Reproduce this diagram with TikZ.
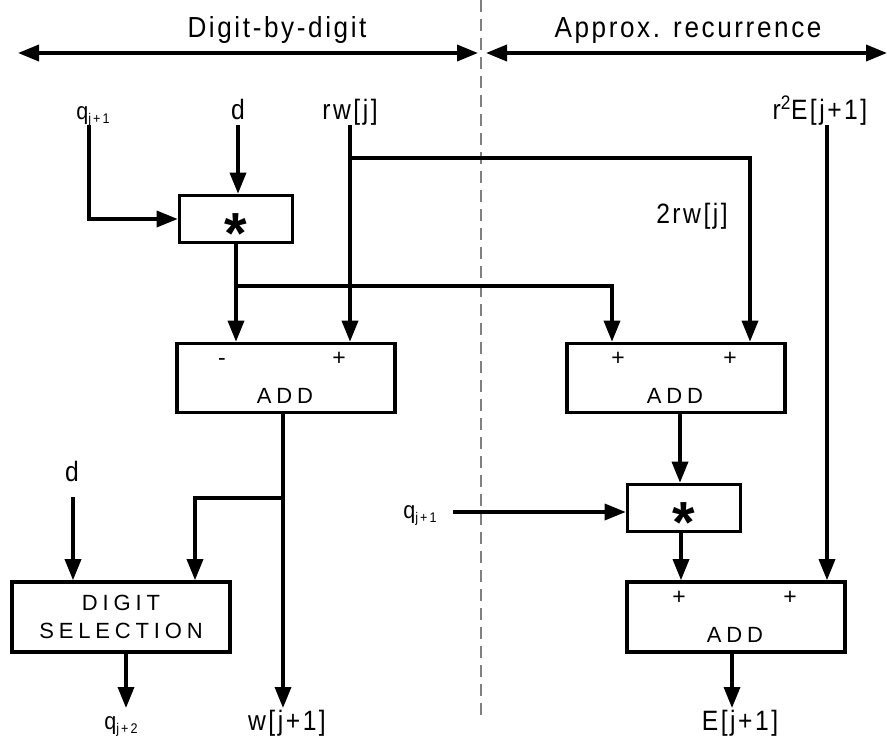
\documentclass[tikz,border=0pt]{standalone}
\usepackage{fontspec}
\setmainfont{Liberation Sans}
\usetikzlibrary{arrows.meta,positioning,calc}

\newcommand{\lowidx}[1]{\raisebox{-0.35ex}{\fontsize{14}{14}\selectfont\addfontfeatures{LetterSpace=15}#1}}
\newcommand{\mulsign}{\smash{\raisebox{-0.6em}{*}}}

\begin{document}
\begin{tikzpicture}[x=1pt,y=-1pt,
  tip/.style={-{Triangle[length=21pt,width=16pt]}},
  wire/.style={line width=3.4pt,tip},
  span/.style={line width=3.6pt,{Triangle[length=21pt,width=16pt]}-{Triangle[length=21pt,width=16pt]}},
  mulbox/.style={draw,line width=3.6pt,minimum width=113pt,minimum height=47pt,inner sep=0pt,font=\fontsize{58}{58}\selectfont\bfseries},
  addbox/.style={draw,line width=3.6pt,minimum width=218pt,minimum height=69pt,inner sep=0pt},
  lbl/.style={font=\fontsize{28}{30}\selectfont\addfontfeatures{FakeStretch=0.88,LetterSpace=9},inner sep=0pt,anchor=base},
  small/.style={font=\fontsize{24}{24}\selectfont\addfontfeatures{FakeStretch=0.9},inner sep=0pt,anchor=base},
  head/.style={font=\fontsize{29}{30}\selectfont\addfontfeatures{FakeStretch=0.9,LetterSpace=9},inner sep=0pt,anchor=base},
  sign/.style={font=\fontsize{23}{24}\selectfont,inner sep=0pt},
  boxtxt/.style={font=\fontsize{22}{28}\selectfont\addfontfeatures{LetterSpace=22},inner sep=0pt,align=center}]
\useasboundingbox (0,0) rectangle (887,740);

% headings and the split between both halves
\node[head] (hdig) at (277,37) {Digit-by-digit};
\node[head] (happ) at (688,37) {Approx. recurrence};
\coordinate (al) at (18,53); \coordinate (am) at (478,53);
\coordinate (bm) at (486,53); \coordinate (br) at (887,53);
\draw[span] (al) -- (am);
\draw[span] (bm) -- (br);
\draw[gray,line width=2.2pt,dash pattern=on 12pt off 7pt] (481,0) -- (481,720);

% boxes
\node[mulbox] (mul1) at (236,219) {\mulsign};
\node[addbox] (add1) at (286,378) {};
\node[addbox] (add2) at (676,378) {};
\node[mulbox] (mul2) at (684,508) {\mulsign};
\node[addbox,minimum height=70pt] (add3) at (736,617) {};
\node[draw,line width=3.6pt,minimum width=218pt,minimum height=70pt,inner sep=0pt] (dsel) at (121,617) {};

% texts in the boxes
\node[sign] (m1) at (222,362) {-};
\node[sign] (p1) at (339,359) {+};
\node[boxtxt] (t1) at (285,396) {ADD};
\node[sign] (p2) at (618,359) {+};
\node[sign] (p3) at (730,359) {+};
\node[boxtxt] (t2) at (675,396) {ADD};
\node[sign] (p4) at (679,598) {+};
\node[sign] (p5) at (790,598) {+};
\node[boxtxt] (t3) at (735,635) {ADD};
\node[boxtxt] (tds) at (121,617) {DIGIT\\SELECTION};

% inputs
\node[small] (qa) at (93,119) {q\lowidx{j+1}};
\node[lbl] (da) at (238,119) {d};
\node[lbl] (rw) at (350,119) {rw[j]};
\node[lbl] (r2e) at (820,119) {r\textsuperscript{2}E[j+1]};
\node[lbl] (rw2) at (692,223) {2rw[j]};
\node[lbl] (db) at (72,481) {d};
\node[small] (qb) at (420,518) {q\lowidx{j+1}};

% outputs
\node[small] (qc) at (121,729) {q\lowidx{j+2}};
\node[lbl] (wn) at (287,730) {w[j+1]};
\node[lbl] (en) at (740,730) {E[j+1]};

% connectors, left half
\coordinate (qas) at (89,125);
\draw[wire] (qas) |- (mul1.west);
\coordinate (das) at (238,125);
\draw[wire] (das) -- (das |- mul1.north);
\coordinate (rws) at (350,125);
\draw[wire] (rws) -- (rws |- add1.north);
\coordinate (rwb) at (350,158);
\draw[wire] (rwb) -| ($(add2.north)+(74,0)$);
\draw[wire] (mul1.south) -- (mul1.south |- add1.north);
\coordinate (mb) at (236,286);
\draw[wire] (mb) -| ($(add2.north)+(-64,0)$);
\coordinate (wo) at (283,708);
\draw[wire] (wo |- add1.south) -- (wo);
\coordinate (ab) at (283,498);
\draw[wire] (ab) -| ($(dsel.north)+(74,0)$);
\coordinate (dbs) at (73,497);
\draw[wire] (dbs) -- (dbs |- dsel.north);
\coordinate (qo) at (126,708);
\draw[wire] (qo |- dsel.south) -- (qo);

% connectors, right half
\coordinate (a2o) at (680,0);
\draw[wire] (a2o |- add2.south) -- (a2o |- mul2.north);
\coordinate (qbs) at (453,512);
\draw[wire] (qbs) -- (qbs -| mul2.west);
\coordinate (m2o) at (681,0);
\draw[wire] (m2o |- mul2.south) -- (m2o |- add3.north);
\coordinate (r2es) at (827,125);
\draw[wire] (r2es) -- (r2es |- add3.north);
\coordinate (eo) at (732,708);
\draw[wire] (eo |- add3.south) -- (eo);
\end{tikzpicture}
\end{document}
